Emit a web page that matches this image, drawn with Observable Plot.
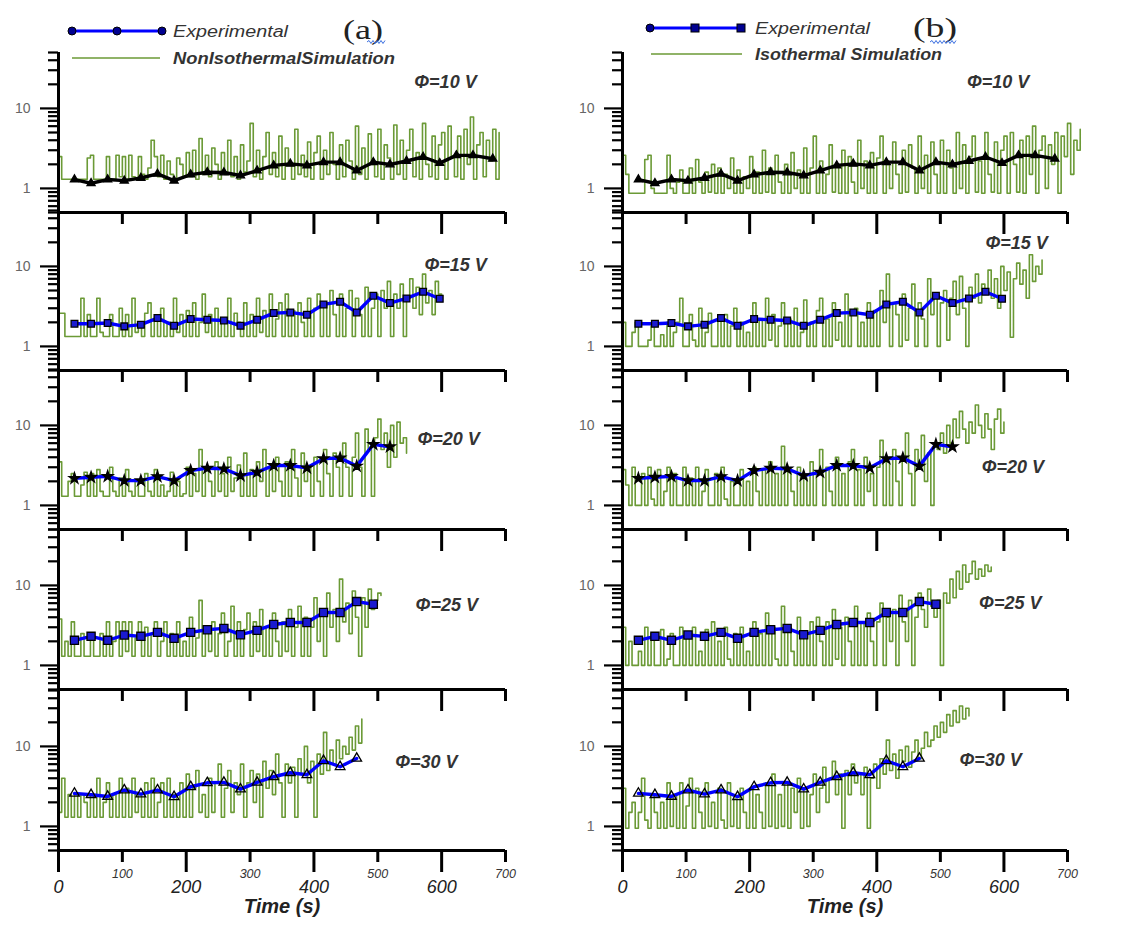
<!DOCTYPE html>
<html><head><meta charset="utf-8">
<script src="https://cdn.jsdelivr.net/npm/d3@7"></script>
<script src="https://cdn.jsdelivr.net/npm/@observablehq/plot@0.6"></script>
<style>
body{margin:0;background:#fff;}
#root{position:relative;width:1124px;height:926px;font-family:Arial,"Liberation Sans",sans-serif;overflow:hidden;background:#fff}
#root svg{position:absolute}
</style></head><body><div id="root"></div>
<script>
// ---------------- data ----------------
const voltages = ["Φ=10 V","Φ=15 V","Φ=20 V","Φ=25 V","Φ=30 V"];
const expTime = [25,51,77,103,129,155,181,207,233,259,285,311,337,363,389,415,441,467,493,519,545,571,597,623,649,680];
const exp10 = [1.29,1.16,1.29,1.25,1.35,1.52,1.25,1.49,1.59,1.58,1.45,1.67,1.94,2.03,1.94,2.13,2.13,1.67,2.13,1.99,2.2,2.47,2.07,2.59,2.59,2.35];
const exp15 = [1.92,1.92,1.96,1.78,1.87,2.26,1.81,2.2,2.15,2.11,1.81,2.15,2.61,2.66,2.49,3.35,3.62,2.66,4.3,3.48,3.98,4.82,3.94];
const exp20 = [2.18,2.25,2.31,2.04,2.04,2.29,2.04,2.73,2.92,2.87,2.36,2.6,3.16,3.16,2.95,3.84,3.92,3.1,5.79,5.41];
const exp25 = [2.06,2.31,2.06,2.4,2.31,2.59,2.18,2.59,2.79,2.9,2.42,2.74,3.25,3.44,3.44,4.58,4.58,6.28,5.81];
const exp30 = [2.59,2.49,2.37,2.85,2.54,2.85,2.35,3.13,3.51,3.55,2.93,3.55,4.18,4.69,4.42,6.62,5.57,7.08];

const simStep = 5; // seconds between simulation samples
const simA10 = [
2.5,1.3,1.3,1.3,1.3,1.3,1.3,1.3,1.3,2.4,2.6,1.3,1.3,1.3,1.3,2.5,1.3,1.3,2.6,1.4,
2.5,1.3,2.6,1.4,1.3,2.5,1.5,1.3,1.8,4.0,2.5,1.4,2.6,1.3,2.2,1.5,1.3,2.4,2.0,1.4,
2.8,1.4,3.0,1.3,4.2,1.5,2.6,1.4,3.2,2.0,1.3,2.8,1.5,4.0,1.4,2.5,1.3,3.5,1.6,2.2,
6.5,1.4,3.0,1.3,2.5,5.0,1.5,2.8,1.4,4.5,1.3,3.2,2.0,1.3,5.5,1.5,2.6,1.4,3.8,1.3,
2.8,4.5,1.3,3.0,1.5,5.0,2.0,1.3,3.5,1.4,4.0,2.2,1.3,6.0,1.5,3.2,1.3,4.8,2.0,1.4,
5.5,1.3,3.5,2.4,1.3,6.2,1.5,4.0,1.3,3.0,5.5,1.4,2.8,1.3,6.5,2.0,1.4,4.5,1.3,3.5,
5.0,1.3,6.0,2.5,1.4,4.5,1.3,5.5,2.0,7.8,1.3,3.5,5.0,1.4,4.0,2.2,5.5,1.3,5.0];
const simB10 = [
2.6,1.5,0.87,0.87,0.87,0.87,0.87,2.3,2.6,1.0,0.87,0.87,0.87,0.87,2.6,1.0,0.87,1.2,1.7,0.87,
0.87,1.8,0.87,2.3,1.2,0.87,1.6,0.9,2.0,0.87,1.8,0.87,1.5,1.0,2.4,0.87,1.7,0.87,1.4,1.0,
2.5,0.87,1.6,0.87,3.0,0.9,1.8,0.87,2.6,1.2,0.87,2.0,0.87,2.8,1.0,1.7,0.87,3.2,0.87,1.8,
4.5,0.87,2.2,0.87,1.5,3.5,0.9,2.0,0.87,3.0,0.87,2.5,1.2,0.87,4.0,1.0,2.2,0.87,2.8,0.87,
2.4,4.5,0.87,2.0,1.0,3.8,1.5,0.87,3.0,0.9,3.5,1.8,0.87,4.5,1.0,2.6,0.87,3.8,1.5,0.87,
4.0,0.87,3.0,1.8,0.87,5.0,1.0,3.5,0.87,2.5,4.5,0.9,2.2,0.87,5.0,1.5,0.9,3.8,0.87,3.0,
4.5,0.87,5.0,2.0,0.9,4.0,0.87,4.5,1.5,6.0,0.87,3.0,4.5,1.0,3.5,2.0,5.0,0.87,4.5,2.5,6.5,1.5,4.0,3.0,5.5];
const simA15 = [
2.6,2.6,1.33,1.33,1.33,1.33,1.33,4.0,1.33,2.5,1.33,1.33,4.0,1.5,1.33,1.33,2.5,1.33,1.33,3.0,
1.33,2.5,1.33,4.0,1.5,2.0,1.33,2.6,3.5,1.33,2.2,1.33,3.0,1.33,2.0,1.33,4.0,1.5,2.5,1.33,
2.8,1.33,3.5,1.33,2.0,4.5,1.5,2.5,1.33,3.0,1.33,2.2,1.33,4.0,1.33,2.6,2.0,1.33,3.5,1.33,
2.5,1.33,4.0,1.5,2.8,1.33,4.5,1.33,2.2,3.5,1.33,4.5,1.33,2.8,1.33,3.5,2.0,1.33,4.0,1.33,
3.0,4.5,1.33,3.5,1.33,5.0,2.5,1.33,4.5,1.33,3.0,5.0,1.33,4.0,2.5,1.33,5.5,1.33,3.0,4.5,
1.33,5.0,3.0,6.5,1.33,4.5,3.0,6.0,1.33,4.0,7.0,3.0,5.5,2.5,8.0,3.5,5.0,2.5,6.5,4.5,4.0];
const simB15 = [
2.0,1.0,1.0,1.5,2.0,1.0,1.0,1.0,1.2,1.8,1.0,1.0,1.4,1.0,2.0,1.0,1.5,2.0,4.0,1.0,
1.0,2.5,1.2,1.0,3.0,1.0,1.5,2.6,1.0,1.0,2.2,1.0,2.5,1.0,1.8,3.0,1.0,2.0,1.0,1.5,
1.0,3.5,1.0,2.2,1.0,4.0,1.2,2.5,1.0,1.8,3.5,1.0,2.2,1.0,3.0,1.0,1.5,3.8,1.0,2.0,
1.0,2.8,4.0,1.0,2.2,1.0,3.5,1.2,2.0,1.0,4.5,1.0,2.5,3.0,1.0,2.0,1.0,3.5,1.0,2.8,
1.0,5.0,2.0,8.0,1.0,3.5,2.5,1.0,4.5,1.2,3.0,6.0,1.0,3.5,2.2,1.0,7.0,2.5,4.0,1.0,
3.5,5.0,1.2,4.0,6.5,2.5,7.5,3.0,1.0,5.5,4.0,8.0,3.5,6.0,4.5,9.0,4.0,7.0,3.0,10.0,
5.0,8.5,1.3,7.0,11.0,6.0,9.0,4.0,14.0,6.5,10.0,8.0,12.0];
const simA20 = [
3.5,1.3,1.3,2.0,2.5,1.3,1.3,1.8,2.6,1.3,2.5,1.3,2.8,1.5,1.3,1.3,3.0,1.5,1.3,2.2,
1.3,2.8,1.5,1.3,2.0,1.3,1.3,2.5,1.5,1.3,2.8,1.3,1.8,1.3,1.5,2.6,1.3,2.0,1.3,1.4,
3.0,1.3,2.5,1.5,5.0,1.3,2.8,2.0,1.3,3.5,1.5,2.5,1.3,4.0,1.5,2.2,3.2,1.3,4.5,1.3,
2.8,1.3,3.5,2.0,5.0,1.3,3.0,1.5,4.0,2.0,1.3,3.5,1.3,5.0,2.2,1.3,4.5,2.0,3.0,1.3,
4.0,2.0,1.3,5.0,2.5,1.3,4.5,3.0,1.3,6.0,3.0,1.3,4.0,8.0,3.0,1.3,9.0,5.0,1.3,7.0,
12.0,5.0,8.0,3.0,10.0,4.0,11.0,6.0,7.0,4.5];
const simB20 = [
2.8,1.8,1.0,3.0,1.0,1.0,2.5,1.0,3.0,1.2,1.0,2.8,1.0,1.5,3.0,1.0,2.5,1.0,1.0,3.0,
1.0,2.2,1.0,3.0,1.0,1.5,2.8,1.0,1.0,2.5,1.0,3.0,1.2,1.0,2.0,1.0,1.0,2.8,1.0,2.0,
1.0,3.0,1.5,1.0,2.8,1.0,3.5,1.0,2.5,1.0,5.5,1.0,2.8,1.5,1.0,3.0,1.0,2.2,1.0,3.5,
1.0,2.5,5.0,1.0,3.0,1.5,1.0,4.0,1.0,2.5,1.0,3.5,5.0,1.0,2.8,1.0,4.0,1.5,2.5,1.0,
3.0,6.5,1.0,3.5,1.0,5.0,2.0,1.0,4.0,8.0,2.5,1.0,5.0,3.0,7.5,2.0,4.5,1.0,6.0,5.0,
8.0,4.5,10.0,6.0,12.0,7.0,15.0,9.0,6.0,11.0,8.0,18.0,10.0,7.0,14.0,9.0,5.0,12.0,16.0,8.0,11.0];
const simA25 = [
3.8,1.3,2.0,1.3,3.5,1.3,1.3,2.5,1.3,1.3,2.5,1.3,1.3,2.5,1.3,3.5,1.3,2.0,3.5,1.3,
3.5,1.5,3.5,1.3,2.2,3.5,1.3,3.0,1.3,2.5,3.5,1.3,2.0,3.5,1.3,2.5,1.3,3.5,1.3,2.0,
1.3,4.0,1.3,2.2,6.5,1.3,3.0,1.5,3.5,1.3,2.5,4.5,1.3,2.0,5.5,1.3,3.5,1.3,2.8,4.5,
1.3,3.5,1.5,5.0,1.3,3.0,1.3,4.5,2.0,1.3,3.5,1.5,5.0,1.3,3.0,5.5,1.3,4.0,1.3,3.0,
7.0,2.0,4.5,1.3,8.0,3.0,5.0,2.0,12.0,3.5,6.0,2.5,8.5,4.0,1.3,7.0,3.0,9.0,5.0,6.5,
8.0,7.5];
const simB25 = [
3.0,1.0,2.0,1.0,1.0,1.5,1.0,3.0,1.0,2.5,1.0,1.0,2.8,1.0,1.2,2.5,1.0,1.0,3.0,1.0,
2.5,1.0,3.0,1.0,1.5,1.0,2.8,1.0,3.5,1.0,2.0,1.0,3.0,1.2,1.0,2.5,1.0,3.0,1.0,1.5,
1.0,3.5,1.0,2.5,1.0,4.5,1.0,3.0,1.2,1.0,5.5,1.0,3.0,1.5,1.0,4.0,1.0,2.5,1.0,3.5,
1.0,4.0,2.0,1.0,3.5,1.0,5.0,1.2,3.0,1.0,4.0,2.0,1.0,5.5,1.0,3.5,1.0,4.5,2.0,1.0,
3.5,6.0,1.0,4.0,2.0,5.0,1.0,7.5,3.5,2.0,6.5,1.0,4.0,8.0,5.0,3.0,9.0,5.5,4.0,6.5,
1.0,8.0,6.0,12.0,7.0,15.0,9.0,18.0,11.0,14.0,20.0,12.0,16.0,13.0,18.0,15.0,17.0];
const simA30 = [
1.5,4.0,1.3,2.5,1.3,2.5,1.3,2.5,2.0,1.3,2.5,1.3,4.0,1.3,2.0,3.5,1.3,2.5,1.3,4.0,
1.3,3.0,1.3,4.0,1.5,2.5,1.3,3.5,1.3,4.0,1.3,2.0,3.5,1.3,4.0,1.3,2.5,1.3,3.5,1.3,
4.5,1.3,3.0,5.0,1.5,2.5,1.3,4.0,1.5,3.5,6.0,1.3,3.0,5.0,1.5,3.5,2.5,6.0,1.3,3.5,
5.0,2.0,4.5,1.3,6.5,3.0,5.0,2.5,8.0,3.5,1.3,6.0,3.5,5.5,1.3,7.0,4.5,10.0,3.5,6.5,
1.3,8.0,4.5,15.0,5.0,9.0,6.0,12.0,7.0,10.0,8.0,13.0,9.0,18.0,11.0,22.0];
const simB30 = [
3.0,0.95,1.5,2.0,0.95,1.5,4.0,1.2,0.95,2.5,1.5,0.95,2.0,0.95,3.5,1.0,2.5,0.95,3.5,0.95,
1.8,4.0,0.95,3.0,1.5,0.95,3.5,1.0,2.0,0.95,3.0,1.2,0.95,3.5,1.0,2.2,0.95,3.0,1.5,0.95,
3.0,0.95,2.5,1.5,0.95,3.5,1.0,4.5,0.95,2.5,1.0,3.5,0.95,3.0,1.5,4.0,0.95,3.0,1.0,2.5,
4.5,1.5,3.0,5.5,2.0,4.0,6.5,2.5,4.5,0.95,5.0,2.5,6.0,3.5,4.5,2.5,5.5,0.95,4.0,6.0,
3.0,7.0,4.5,12.0,5.0,8.0,4.0,9.0,6.5,10.0,5.5,8.5,12.0,7.0,9.5,15.0,10.0,12.0,18.0,13.0,
20.0,15.0,25.0,18.0,28.0,20.0,32.0,22.0,30.0,24.0];

const expValues = [exp10, exp15, exp20, exp25, exp30];
const simAll = [[simA10,simA15,simA20,simA25,simA30],[simB10,simB15,simB20,simB25,simB30]];
// label anchor positions (time, value) for each Φ label
const labelTime = [[606,622,611,608,576],[591,620,614,610,579]];
const labelValue = [[21.1,10.3,6.7,5.6,6.3],[21.1,19.4,3.0,5.95,6.7]];
const majorY = [1,10];
const minorY = [0.5,0.6,0.7,0.8,0.9,2,3,4,5,6,7,8,9,20,30,40,50];
const majorX = [0,200,400,600];
const minorX = [100,300,500,700];
const legendNames = [["Experimental","NonIsothermalSimulation"],["Experimental","Isothermal Simulation"]];
const panelTags = ["(a)","(b)"];

// ---------------- styling / layout ----------------
const GREEN = "#6b9a36", BLUE = "#0000ff";
const rowStyle = [
  {line:"#000", symbol:"triangle", fill:"#000", stroke:"#000", r:3},
  {line:BLUE, symbol:"square", fill:"#1a1ad0", stroke:"#000", r:3.8},
  {line:BLUE, symbol:"star", fill:"#000", stroke:"#000", r:3.4},
  {line:BLUE, symbol:"square", fill:"#1a1ad0", stroke:"#000", r:4.6},
  {line:BLUE, symbol:"triangle", fill:"none", stroke:"#000", r:3.6}
];
const panelTops = [52,210,369,529,690];
const cols = [{left:0,width:560,ml:58,pw:447},{left:560,width:564,ml:62,pw:445}];
const root = document.getElementById("root");
const FONT = "Arial, 'Liberation Sans', sans-serif";

cols.forEach((c, ci) => {
  for (let r = 0; r < 5; r++) {
    const st = rowStyle[r];
    const mt = 2, ph = 160, mb = r === 4 ? 80 : 26;
    const simData = simAll[ci][r].map((v,i) => ({t:i*simStep, v}));
    const expData = expValues[r].map((v,i) => ({t:expTime[i], v}));
    const marks = [
      Plot.line(simData, {x:"t", y:"v", curve:"step-after", stroke:GREEN, strokeWidth:1.6}),
      Plot.line(expData, {x:"t", y:"v", stroke:st.line, strokeWidth:3.4}),
      Plot.dot(expData, {x:"t", y:"v", symbol:st.symbol, r:st.r, fill:st.fill, stroke:st.stroke, strokeWidth:1.3}),
      Plot.axisY({ticks:majorY, tickSize:18, tickPadding:10, tickFormat:d=>String(d), fontSize:14, fill:"#666", stroke:"#000", strokeWidth:2.2, label:null}),
      Plot.axisY({ticks:minorY, tickSize:10, tickFormat:()=>"", strokeWidth:2.2, label:null}),
      Plot.ruleX([0], {strokeWidth:3}),
      Plot.ruleY([0.5], {strokeWidth:3}),
      Plot.axisX({ticks:majorX, tickSize:22, tickFormat:()=>"", strokeWidth:3, label:null}),
      Plot.axisX({ticks:minorX, tickSize:12, tickFormat:()=>"", strokeWidth:3, label:null}),
      Plot.text([{t:labelTime[ci][r], v:labelValue[ci][r], s:voltages[r]}], {x:"t", y:"v", text:"s", fontSize:18, fontWeight:"bold", fontStyle:"italic", fill:"#333"})
    ];
    if (r === 4) {
      marks.push(
        Plot.text(majorX, {x:d=>d, frameAnchor:"bottom", dy:42, text:d=>String(d), fontSize:18, fontStyle:"italic", fill:"#222"}),
        Plot.text(minorX, {x:d=>d, frameAnchor:"bottom", dy:27, text:d=>String(d), fontSize:12.5, fontStyle:"italic", fill:"#333"}),
        Plot.text(["Time (s)"], {frameAnchor:"bottom", dy:62, text:d=>d, fontSize:20, fontWeight:"bold", fontStyle:"italic", fill:"#222"})
      );
    }
    const svg = Plot.plot({
      width:c.width, height:mt+ph+mb,
      marginLeft:c.ml, marginRight:c.width-c.ml-c.pw, marginTop:mt, marginBottom:mb,
      x:{domain:[0,700], label:null},
      y:{type:"log", domain:[0.5,50], label:null},
      style:{background:"transparent", overflow:"visible", fontFamily:FONT},
      marks
    });
    svg.style.left = c.left + "px";
    svg.style.top = (panelTops[r] - mt) + "px";
    root.appendChild(svg);
  }
});

// ---------------- legends (above the panels) ----------------
function squiggle(x0, x1, y) {
  let d = `M${x0},${y}`, up = true;
  for (let x = x0 + 2; x <= x1; x += 2) { d += ` L${x},${y + (up ? -1.5 : 1.5)}`; up = !up; }
  return `<path d="${d}" fill="none" stroke="#3b6fe0" stroke-width="1"/>`;
}
const legend = `
<svg width="1124" height="926" style="left:0;top:0;pointer-events:none;font-family:${FONT}">
  <line x1="72" y1="31" x2="162" y2="31" stroke="${BLUE}" stroke-width="3"/>
  <circle cx="72" cy="31" r="4" fill="#000090" stroke="#000"/>
  <circle cx="117" cy="31" r="4" fill="#000090" stroke="#000"/>
  <circle cx="162" cy="31" r="4" fill="#000090" stroke="#000"/>
  <text x="173" y="36.5" font-size="16" font-style="italic" fill="#333" textLength="115" lengthAdjust="spacingAndGlyphs">${legendNames[0][0]}</text>
  <line x1="72" y1="58" x2="160" y2="58" stroke="${GREEN}" stroke-width="1.3"/>
  <text x="173" y="63.5" font-size="16" font-style="italic" font-weight="bold" fill="#333" textLength="222" lengthAdjust="spacingAndGlyphs">${legendNames[0][1]}</text>
  <text x="343" y="39" font-size="27" font-family="'Liberation Serif','DejaVu Serif',serif" fill="#222" textLength="40" lengthAdjust="spacingAndGlyphs">${panelTags[0]}</text>
  ${squiggle(367, 386, 42)}

  <line x1="650" y1="28" x2="742" y2="28" stroke="${BLUE}" stroke-width="3"/>
  <circle cx="650" cy="28" r="4" fill="#000090" stroke="#000"/>
  <rect x="691" y="24" width="8" height="8" fill="#000090" stroke="#000"/>
  <rect x="737" y="24" width="8" height="8" fill="#000090" stroke="#000"/>
  <text x="755" y="33.5" font-size="16" font-style="italic" fill="#333" textLength="115" lengthAdjust="spacingAndGlyphs">${legendNames[1][0]}</text>
  <line x1="651" y1="54" x2="742" y2="54" stroke="${GREEN}" stroke-width="1.3"/>
  <text x="755" y="60" font-size="16" font-style="italic" font-weight="bold" fill="#333" textLength="187" lengthAdjust="spacingAndGlyphs">${legendNames[1][1]}</text>
  <text x="913" y="37" font-size="27" font-family="'Liberation Serif','DejaVu Serif',serif" fill="#222" textLength="44" lengthAdjust="spacingAndGlyphs">${panelTags[1]}</text>
  ${squiggle(930, 957, 42)}
</svg>`;
root.insertAdjacentHTML("beforeend", legend);
</script></body></html>
